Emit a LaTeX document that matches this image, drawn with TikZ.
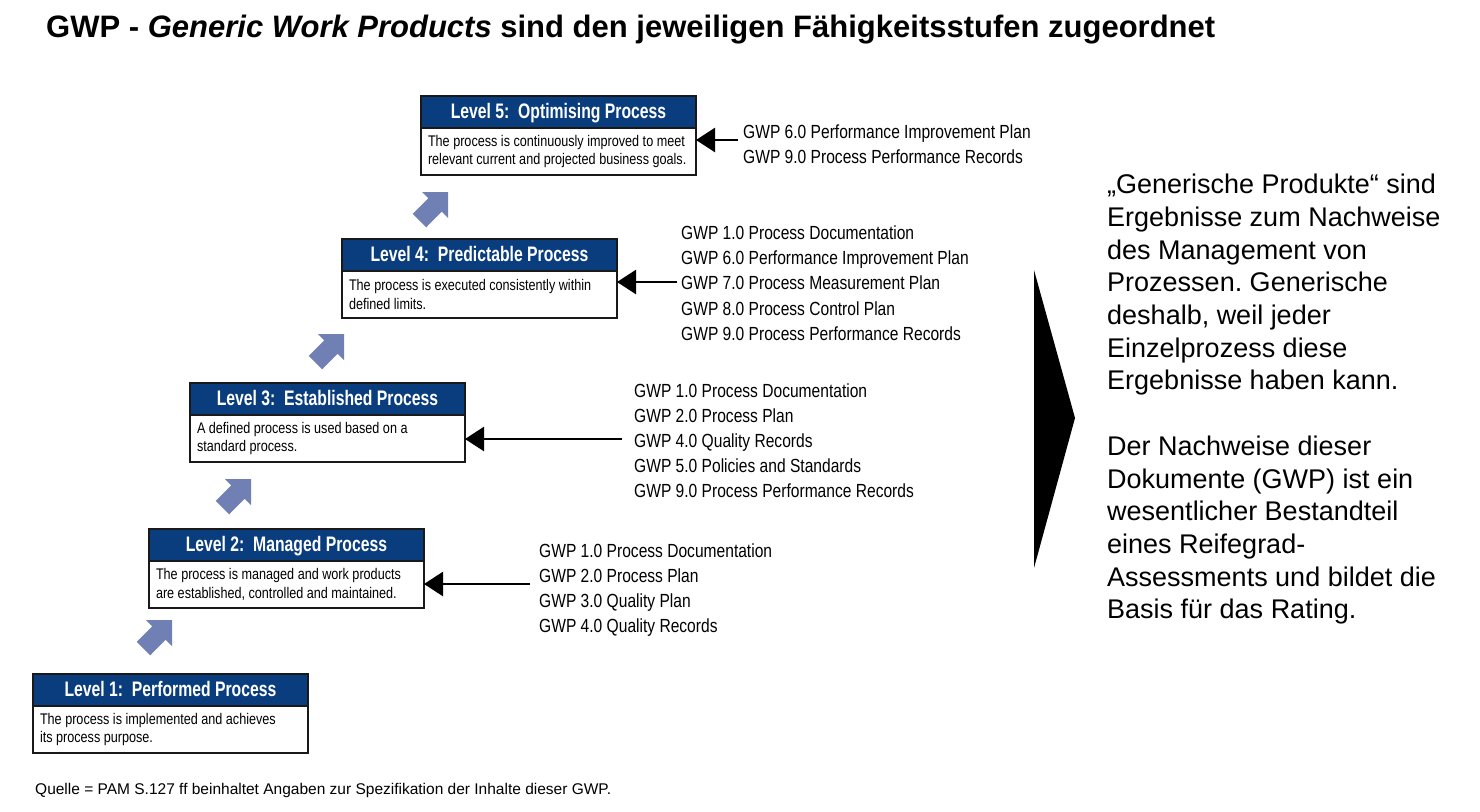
\documentclass[tikz,border=0pt]{standalone}
\usepackage{fontspec}
\setmainfont{Liberation Sans}
\newfontfamily\condfont[FakeStretch=0.82]{Liberation Sans}
\newfontfamily\condbold[FakeStretch=0.75]{Liberation Sans}
\usetikzlibrary{arrows.meta}
\definecolor{hdrblue}{HTML}{0A3D7E}
\definecolor{stepblue}{HTML}{7080B5}
\frenchspacing
\begin{document}
\begin{tikzpicture}[x=1pt,y=-1pt,
  hdr/.style={draw=black!90, line width=2.6pt, outer sep=0pt, fill=hdrblue, text=white,
    minimum width=275pt, minimum height=32pt, inner sep=0pt, text height=15pt, text depth=3pt,
    anchor=north west, font=\condbold\bfseries\fontsize{21}{24}\selectfont},
  bodytxt/.style={draw=black!90, line width=2.6pt, outer sep=0pt, fill=white,
    minimum width=275pt, text width=261pt, minimum height=47pt, inner xsep=7pt, inner ysep=0pt,
    align=left, anchor=north, font=\condfont\fontsize{15.4}{18.5}\selectfont,
    execute at begin node={\spaceskip=0pt\xspaceskip=0pt\rightskip=0pt plus 1fil\relax}},
  gwp/.style={anchor=base west, inner sep=0pt, font=\condfont\fontsize{19}{23}\selectfont},
  feed/.style={line width=2.6pt, -{Triangle[length=19pt,width=24pt]}},
  rtext/.style={anchor=base west, inner sep=0pt, font=\fontsize{27}{32}\selectfont},
  lvlarrow/.pic={
    \fill[stepblue] (0,0) -- (-26,0) -- (-19.7,6.3) -- (-35.3,21.8) -- (-21.8,35.3)
      -- (-6.3,19.7) -- (0,26) -- cycle;}
]
\useasboundingbox[fill=white] (0,0) rectangle (1480,811);

% title
\node[anchor=base west, inner sep=0pt, font=\bfseries\fontsize{31}{36}\selectfont] (title) at (46,37)
  {GWP - \textit{Generic Work Products} sind den jeweiligen Fähigkeitsstufen zugeordnet};

% capability levels: header bar and description
\node[hdr] (h1) at (33,674) {Level 1:\ \ Performed Process};
\node[bodytxt] (b1) at (h1.south) {The process is implemented and achieves\\its process purpose.};
\node[hdr] (h2) at (149,529) {Level 2:\ \ Managed Process};
\node[bodytxt] (b2) at (h2.south) {The process is managed and work products\\are established, controlled and maintained.};
\node[hdr] (h3) at (190,383) {Level 3:\ \ Established Process};
\node[bodytxt] (b3) at (h3.south) {A defined process is used based on a\\standard process.};
\node[hdr] (h4) at (342,239) {Level 4:\ \ Predictable Process};
\node[bodytxt] (b4) at (h4.south) {The process is executed consistently within\\defined limits.};
\node[hdr] (h5) at (421,96) {Level 5:\ \ Optimising Process};
\node[bodytxt] (b5) at (h5.south) {The process is continuously improved to meet\\relevant current and projected business goals.};

% steps between the levels
\pic at (172,620) {lvlarrow};
\pic at (251,479) {lvlarrow};
\pic at (344,334) {lvlarrow};
\pic at (448,192) {lvlarrow};

% generic work products per level
\node[gwp] (g5a) at (743,138) {GWP 6.0 Performance Improvement Plan};
\node[gwp] (g5b) at (743,163) {GWP 9.0 Process Performance Records};

\node[gwp] (g4a) at (681,239.5) {GWP 1.0 Process Documentation};
\node[gwp] (g4b) at (681,264.7) {GWP 6.0 Performance Improvement Plan};
\node[gwp] (g4c) at (681,289.9) {GWP 7.0 Process Measurement Plan};
\node[gwp] (g4d) at (681,315.1) {GWP 8.0 Process Control Plan};
\node[gwp] (g4e) at (681,340.3) {GWP 9.0 Process Performance Records};

\node[gwp] (g3a) at (634,397) {GWP 1.0 Process Documentation};
\node[gwp] (g3b) at (634,422) {GWP 2.0 Process Plan};
\node[gwp] (g3c) at (634,447) {GWP 4.0 Quality Records};
\node[gwp] (g3d) at (634,472) {GWP 5.0 Policies and Standards};
\node[gwp] (g3e) at (634,497) {GWP 9.0 Process Performance Records};

\node[gwp] (g2a) at (539,557) {GWP 1.0 Process Documentation};
\node[gwp] (g2b) at (539,582) {GWP 2.0 Process Plan};
\node[gwp] (g2c) at (539,607) {GWP 3.0 Quality Plan};
\node[gwp] (g2d) at (539,632) {GWP 4.0 Quality Records};

% feed arrows from the lists into the levels
\coordinate (f5) at (738,140);
\coordinate (f4) at (677,282);
\coordinate (f3) at (622,439);
\coordinate (f2) at (530,584);
\draw[feed] (f5) -- (f5 -| b5.east);
\draw[feed] (f4) -- (f4 -| b4.east);
\draw[feed] (f3) -- (f3 -| b3.east);
\draw[feed] (f2) -- (f2 -| b2.east);

% big pointer
\fill[black] (1034,270) -- (1075,418) -- (1034,568) -- cycle;

% explanation
\foreach \yy/\tt [count=\i] in {
  193.7/{„Generische Produkte“ sind},
  226.4/{Ergebnisse zum Nachweise},
  259.1/{des Management von},
  291.8/{Prozessen. Generische},
  324.5/{deshalb, weil jeder},
  357.2/{Einzelprozess diese},
  389.9/{Ergebnisse haben kann.},
  455.3/{Der Nachweise dieser},
  488.0/{Dokumente (GWP) ist ein},
  520.7/{wesentlicher Bestandteil},
  553.4/{eines Reifegrad-},
  586.1/{Assessments und bildet die},
  618.8/{Basis für das Rating.}}
  \node[rtext] (r\i) at (1107,\yy) {\tt};

% source
\node[anchor=base west, inner sep=0pt, font=\fontsize{15.5}{18}\selectfont] (src) at (35,794.5)
  {Quelle = PAM S.127 ff beinhaltet Angaben zur Spezifikation der Inhalte dieser GWP.};
\end{tikzpicture}
\end{document}
